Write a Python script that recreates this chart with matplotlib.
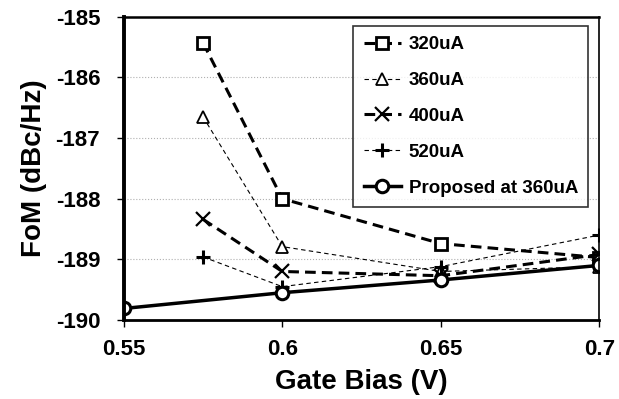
import matplotlib
matplotlib.use('Agg')
import matplotlib.pyplot as plt

plt.rcParams['font.family'] = ['Liberation Sans', 'DejaVu Sans']
plt.rcParams['font.weight'] = 'bold'
plt.rcParams['axes.unicode_minus'] = False

bias = [0.575, 0.6, 0.65, 0.7]
fom_320 = [-185.43, -188.0, -188.74, -188.97]
fom_360 = [-186.65, -188.79, -189.2, -189.12]
fom_400 = [-188.34, -189.2, -189.27, -188.92]
fom_520 = [-188.96, -189.45, -189.12, -188.6]

bias_prop = [0.55, 0.6, 0.65, 0.7]
fom_prop = [-189.81, -189.55, -189.34, -189.1]

fig = plt.figure(figsize=(6.19, 3.99), dpi=100)
ax = fig.add_axes([0.2, 0.198, 0.768, 0.76])

ax.plot(bias, fom_320, color='black', linewidth=2.2, linestyle=(0, (3.5, 2)), marker='s',
        markersize=8, markerfacecolor='white', markeredgewidth=2, label='320uA')
ax.plot(bias, fom_360, color='black', linewidth=0.8, linestyle=(0, (4, 3)), marker='^',
        markersize=8, markerfacecolor='white', markeredgewidth=1.3, label='360uA')
ax.plot(bias, fom_400, color='black', linewidth=2.2, linestyle=(0, (3.5, 2)), marker='x',
        markersize=10, markeredgewidth=1.6, label='400uA')
ax.plot(bias, fom_520, color='black', linewidth=0.8, linestyle=(0, (4, 3)), marker='+',
        markersize=10, markeredgewidth=2.2, label='520uA')
ax.plot(bias_prop, fom_prop, color='black', linewidth=2.5, marker='o',
        markersize=9, markerfacecolor='white', markeredgewidth=2.2, label='Proposed at 360uA')

ax.set_xlim(0.55, 0.7)
ax.set_ylim(-190, -185)
ax.set_xticks([0.55, 0.6, 0.65, 0.7])
ax.set_xticklabels(['0.55', '0.6', '0.65', '0.7'])
ax.set_yticks([-190, -189, -188, -187, -186, -185])
ax.tick_params(axis='both', direction='out', length=5, width=1, labelsize=16)
ax.tick_params(axis='y', pad=12)
ax.tick_params(axis='x', pad=9)
for lab in ax.get_xticklabels() + ax.get_yticklabels():
    lab.set_fontweight('bold')
ax.yaxis.grid(True, color='#b0b0b0', linestyle=':', linewidth=0.8)
ax.set_axisbelow(True)

ax.spines['left'].set_linewidth(2.8)
ax.spines['bottom'].set_linewidth(2)
ax.spines['top'].set_linewidth(1.8)
ax.spines['right'].set_linewidth(1.2)

ax.set_xlabel('Gate Bias (V)', fontsize=20, fontweight='bold', labelpad=6)
ax.set_ylabel('FoM (dBc/Hz)', fontsize=20, fontweight='bold', labelpad=6)

leg = ax.legend(loc='upper right', bbox_to_anchor=(0.977, 0.97),
                prop={'weight': 'bold', 'size': 13.5}, frameon=True, fancybox=False,
                edgecolor='black', handlelength=2.0, handletextpad=0.4,
                labelspacing=1.0, borderpad=0.55, borderaxespad=0)
leg.get_frame().set_linewidth(1.2)

plt.savefig('out.png', dpi=100)
